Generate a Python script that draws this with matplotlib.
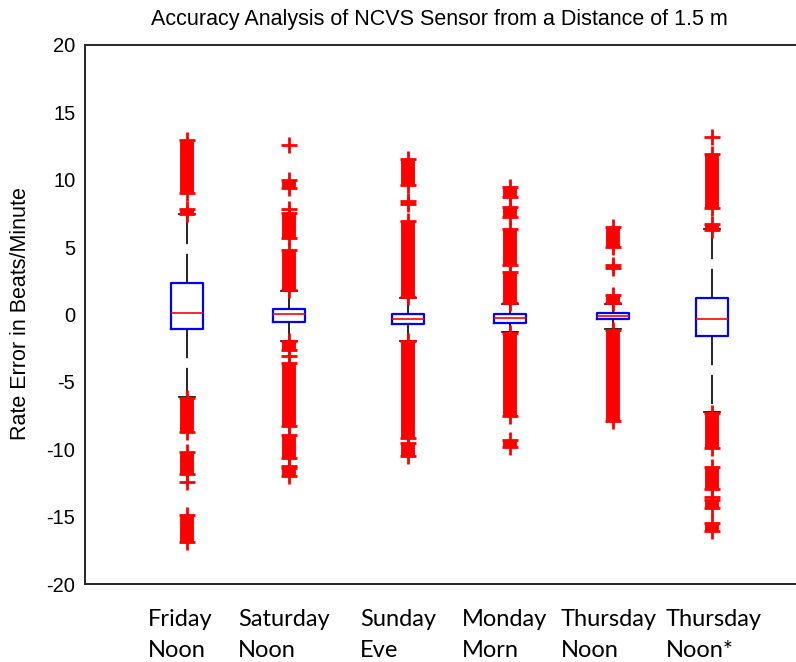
import numpy as np
import matplotlib
matplotlib.use("Agg")
import matplotlib.pyplot as plt

plt.rcParams['lines.scale_dashes'] = False
plt.rcParams['axes.unicode_minus'] = False
plt.rcParams['font.family'] = ['Liberation Sans', 'DejaVu Sans']

# categories and where they sit on the x axis
groups = ["Friday\nNoon", "Saturday\nNoon", "Sunday\nEve", "Monday\nMorn",
          "Thursday\nNoon", "Thursday\nNoon*"]
positions = [1.015, 2.04, 3.23, 4.25, 5.275, 6.265]

# box statistics (beats/minute)
q1 = [-1.10, -0.58, -0.73, -0.61, -0.36, -1.60]
medians = [0.13, 0.04, -0.36, -0.24, -0.11, -0.36]
q3 = [2.36, 0.41, 0.04, 0.04, 0.14, 1.25]
whisker_lo = [-6.10, -1.94, -1.94, -1.32, -1.10, -7.24]
whisker_hi = [7.43, 1.74, 1.25, 0.78, 0.78, 6.32]

# outliers are so dense they merge into runs: (from, to)
outlier_runs = [
    [(9.05, 12.95), (7.45, 7.85), (-6.2, -8.7), (-10.2, -11.8), (-14.9, -16.9)],
    [(1.85, 4.79), (5.65, 7.55), (9.36, 9.98), (-2.0, -2.63), (-3.62, -8.27),
     (-8.94, -10.63), (-11.41, -11.99)],
    [(1.3, 6.96), (8.2, 8.4), (9.61, 11.54), (-2.0, -9.14), (-9.56, -10.5)],
    [(0.85, 3.15), (3.67, 6.35), (7.26, 7.96), (8.74, 9.44), (-1.35, -7.53),
     (-9.31, -9.86)],
    [(0.85, 1.42), (3.45, 3.7), (5.03, 6.47), (-1.15, -7.9)],
    [(6.27, 6.72), (7.88, 11.91), (-7.3, -9.88), (-11.29, -12.97),
     (-13.77, -14.33), (-15.5, -16.04)],
]
# lone outliers
outlier_single = [
    [-12.45],
    [12.58, 7.85, -3.05, -11.24],
    [],
    [],
    [],
    [13.2, -13.52],
]

# left edge of each category label, in x data units
label_left = [0.63, 1.53, 2.75, 3.77, 4.76, 5.81]

fig = plt.figure(figsize=(7.96, 6.62), dpi=100)
ax = fig.add_axes([85 / 796, 78 / 662, 715 / 796, 539 / 662])

stats = []
for i in range(len(groups)):
    stats.append({"med": medians[i], "q1": q1[i], "q3": q3[i],
                  "whislo": whisker_lo[i], "whishi": whisker_hi[i], "fliers": []})

ax.bxp(stats, positions=positions, widths=0.32, capwidths=0.16, showfliers=False,
       boxprops=dict(color='#0000ff', linewidth=1.6),
       medianprops=dict(color='#ff0000', linewidth=1.2),
       whiskerprops=dict(color='black', linewidth=1.2, linestyle=(0, (21, 7))),
       capprops=dict(color='black', linewidth=1.2))

for p, runs, singles in zip(positions, outlier_runs, outlier_single):
    for lo, hi in runs:
        ax.vlines(p, lo, hi, color='#ff0000', linewidth=10, capstyle='butt', zorder=3)
        ax.plot([p, p], [lo, hi], linestyle='none', marker='+', color='#ff0000',
                markersize=11, markeredgewidth=2, zorder=3)
    if singles:
        ax.plot([p] * len(singles), singles, linestyle='none', marker='+',
                color='#ff0000', markersize=11, markeredgewidth=2, zorder=3)

ax.set_xlim(0, 7.15)
ax.set_ylim(-20, 20)
ax.set_yticks(np.arange(-20, 21, 5))
ax.tick_params(axis='y', length=0, pad=7, labelsize=14.5)
ax.set_xticks([])
for x, lab in zip(label_left, groups):
    ax.text(x, -21.85, lab, transform=ax.transData, ha='left', va='top',
            fontfamily=['Lato', 'DejaVu Sans'], fontsize=17, linespacing=1.62,
            clip_on=False)
for s in ax.spines.values():
    s.set_color('#262626')
    s.set_linewidth(1.4)
ax.spines['right'].set_visible(False)

fig.text(439 / 796, 1 - 19 / 662, "Accuracy Analysis of NCVS Sensor from a Distance of 1.5 m",
         ha='center', va='center', fontsize=15.5)
fig.text(21 / 796, 1 - 314 / 662, "Rate Error in Beats/Minute", rotation=90,
         ha='center', va='center', fontsize=15.5)

fig.savefig("out.png", dpi=100)
